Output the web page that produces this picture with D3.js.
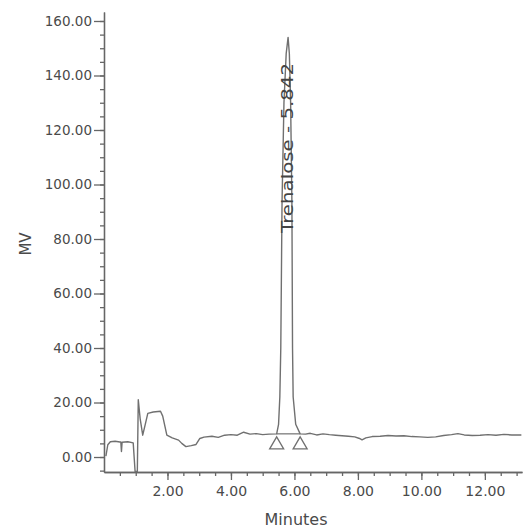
<!DOCTYPE html>
<html lang="en">

<head>
  <meta charset="UTF-8">
  <title>Trehalose chromatogram</title>
  <script src="https://d3js.org/d3.v7.min.js"></script>
  <style>
    body { margin: 0; background: #fff; }
    text { font-family: "DejaVu Sans", sans-serif; fill: #4a4a4a; }
  </style>
</head>

<body>
  <script>

    // trace (minutes, mV)
    var timeMin = [
      0.06, 0.12, 0.20, 0.35, 0.50, 0.53, 0.55, 0.57, 0.75, 0.92, 0.98, 1.05, 1.08, 1.14, 1.22, 1.30, 1.38,
      1.55, 1.78, 1.85, 1.98, 2.15, 2.35, 2.45, 2.58, 2.75, 2.90, 3.02, 3.15, 3.40, 3.60, 3.80, 4.00,
      4.20, 4.40, 4.60, 4.80, 5.00, 5.20, 5.44,
      5.50, 5.54, 5.57, 5.61, 5.67, 5.74, 5.80, 5.84, 5.88, 5.92, 5.94, 5.96, 6.04, 6.18,
      6.35, 6.50, 6.70, 6.90, 7.10, 7.30, 7.50, 7.70, 7.90, 8.05, 8.13, 8.25, 8.45, 8.70, 8.95,
      9.20, 9.45, 9.70, 9.95, 10.20, 10.45, 10.70, 10.95, 11.15, 11.35, 11.60, 11.85, 12.10, 12.35,
      12.60, 12.85, 13.15
    ];
    var signalMV = [
      0.3, 4.5, 5.6, 5.8, 5.5, 5.5, 2.0, 5.4, 5.6, 5.2, -5.3, -5.3, 21.0, 14.0, 8.0, 12.0, 16.0,
      16.5, 16.8, 15.0, 8.0, 7.0, 6.2, 5.0, 3.8, 4.2, 4.6, 6.8, 7.3, 7.6, 7.2, 8.0, 8.2,
      8.0, 9.1, 8.4, 8.6, 8.2, 8.4, 8.5,
      12.0, 22.0, 40.0, 94.0, 130.0, 148.0, 154.0, 148.0, 130.0, 94.0, 40.0, 22.0, 12.0, 8.5,
      8.4, 8.7, 8.1, 8.5, 8.2, 8.0, 7.8, 7.6, 7.4, 6.8, 6.3, 7.0, 7.5, 7.6, 7.9,
      7.7, 7.8, 7.5, 7.4, 7.2, 7.4, 7.9, 8.2, 8.6, 8.1, 7.9, 8.0, 8.2, 8.0,
      8.3, 8.1, 8.1
    ];

    // peak start / end markers and label
    var peakBounds = [5.44, 6.18];
    var peakBaseMV = [8.5, 8.5];
    var peakName = "Trehalose";
    var peakTime = 5.842;

    // tick values
    var xMajor = [2, 4, 6, 8, 10, 12];
    var xMinor = d3.range(0.5, 13.1, 0.5);
    var yMajor = [0, 20, 40, 60, 80, 100, 120, 140, 160];
    var yMinor = d3.range(-5, 163, 5);

    // plot box in pixels
    var W = 532, H = 529;
    var plotL = 104, plotR = 522, plotT = 12, plotB = 472;

    var x = d3.scaleLinear().domain([0, 13.17]).range([plotL, plotR]);
    var y = d3.scaleLinear().domain([-5.5, 163.3]).range([plotB, plotT]);

    var svg = d3.select("body").append("svg")
      .attr("width", W)
      .attr("height", H);

    var axisColor = "#666";

    // minor ticks first
    svg.append("g")
      .attr("transform", "translate(" + plotL + ",0)")
      .call(d3.axisLeft(y).tickValues(yMinor).tickSize(4).tickSizeOuter(0).tickFormat(""));
    svg.append("g")
      .attr("transform", "translate(0," + plotB + ")")
      .call(d3.axisBottom(x).tickValues(xMinor).tickSize(4).tickSizeOuter(0).tickFormat(""));

    // Y axis
    var gy = svg.append("g")
      .attr("transform", "translate(" + plotL + ",0)")
      .call(d3.axisLeft(y).tickValues(yMajor).tickSize(10).tickPadding(2).tickSizeOuter(0)
        .tickFormat(d3.format(".2f")));
    gy.selectAll("text").style("font-size", "13.5px");

    // X axis
    var gx = svg.append("g")
      .attr("transform", "translate(0," + plotB + ")")
      .call(d3.axisBottom(x).tickValues(xMajor).tickSize(8).tickPadding(6).tickSizeOuter(0)
        .tickFormat(d3.format(".2f")));
    gx.selectAll("text").style("font-size", "14px");

    svg.selectAll(".domain, .tick line")
      .attr("stroke", axisColor)
      .attr("stroke-width", 1.3);

    // axis titles
    svg.append("text")
      .attr("transform", "translate(31,244) rotate(-90)")
      .attr("text-anchor", "middle")
      .style("font-size", "15px")
      .text("MV");

    svg.append("text")
      .attr("x", 296)
      .attr("y", 525)
      .attr("text-anchor", "middle")
      .style("font-size", "16px")
      .text("Minutes");

    // trace
    var trace = d3.range(timeMin.length).map(function (i) { return [timeMin[i], signalMV[i]]; });
    var line = d3.line()
      .x(function (d) { return x(d[0]); })
      .y(function (d) { return y(d[1]); });

    svg.append("path")
      .datum(trace)
      .attr("fill", "none")
      .attr("stroke", "#707070")
      .attr("stroke-width", 1.4)
      .attr("stroke-linejoin", "round")
      .attr("d", line);

    // integration baseline under the peak
    svg.append("path")
      .datum([[peakBounds[0], peakBaseMV[0]], [peakBounds[1], peakBaseMV[1]]])
      .attr("fill", "none")
      .attr("stroke", "#707070")
      .attr("stroke-width", 1.2)
      .attr("d", line);

    // start / end triangles
    svg.selectAll(".mark")
      .data(peakBounds)
      .enter()
      .append("path")
      .attr("class", "mark")
      .attr("fill", "#fff")
      .attr("stroke", "#707070")
      .attr("stroke-width", 1.3)
      .attr("d", function (d, i) {
        var cx = x(d), cy = y(peakBaseMV[i]) + 3;
        return "M" + cx + "," + cy + "L" + (cx + 7) + "," + (cy + 12) + "L" + (cx - 7) + "," + (cy + 12) + "Z";
      });

    // peak label, rotated along the peak
    svg.append("text")
      .attr("transform", "translate(" + (x(peakTime) + 4) + "," + 233 + ") rotate(-90)")
      .attr("text-anchor", "start")
      .attr("textLength", 170)
      .attr("lengthAdjust", "spacingAndGlyphs")
      .style("font-size", "16.5px")
      .style("fill", "#444")
      .text(peakName + " - " + peakTime.toFixed(3));

  </script>
</body>

</html>
